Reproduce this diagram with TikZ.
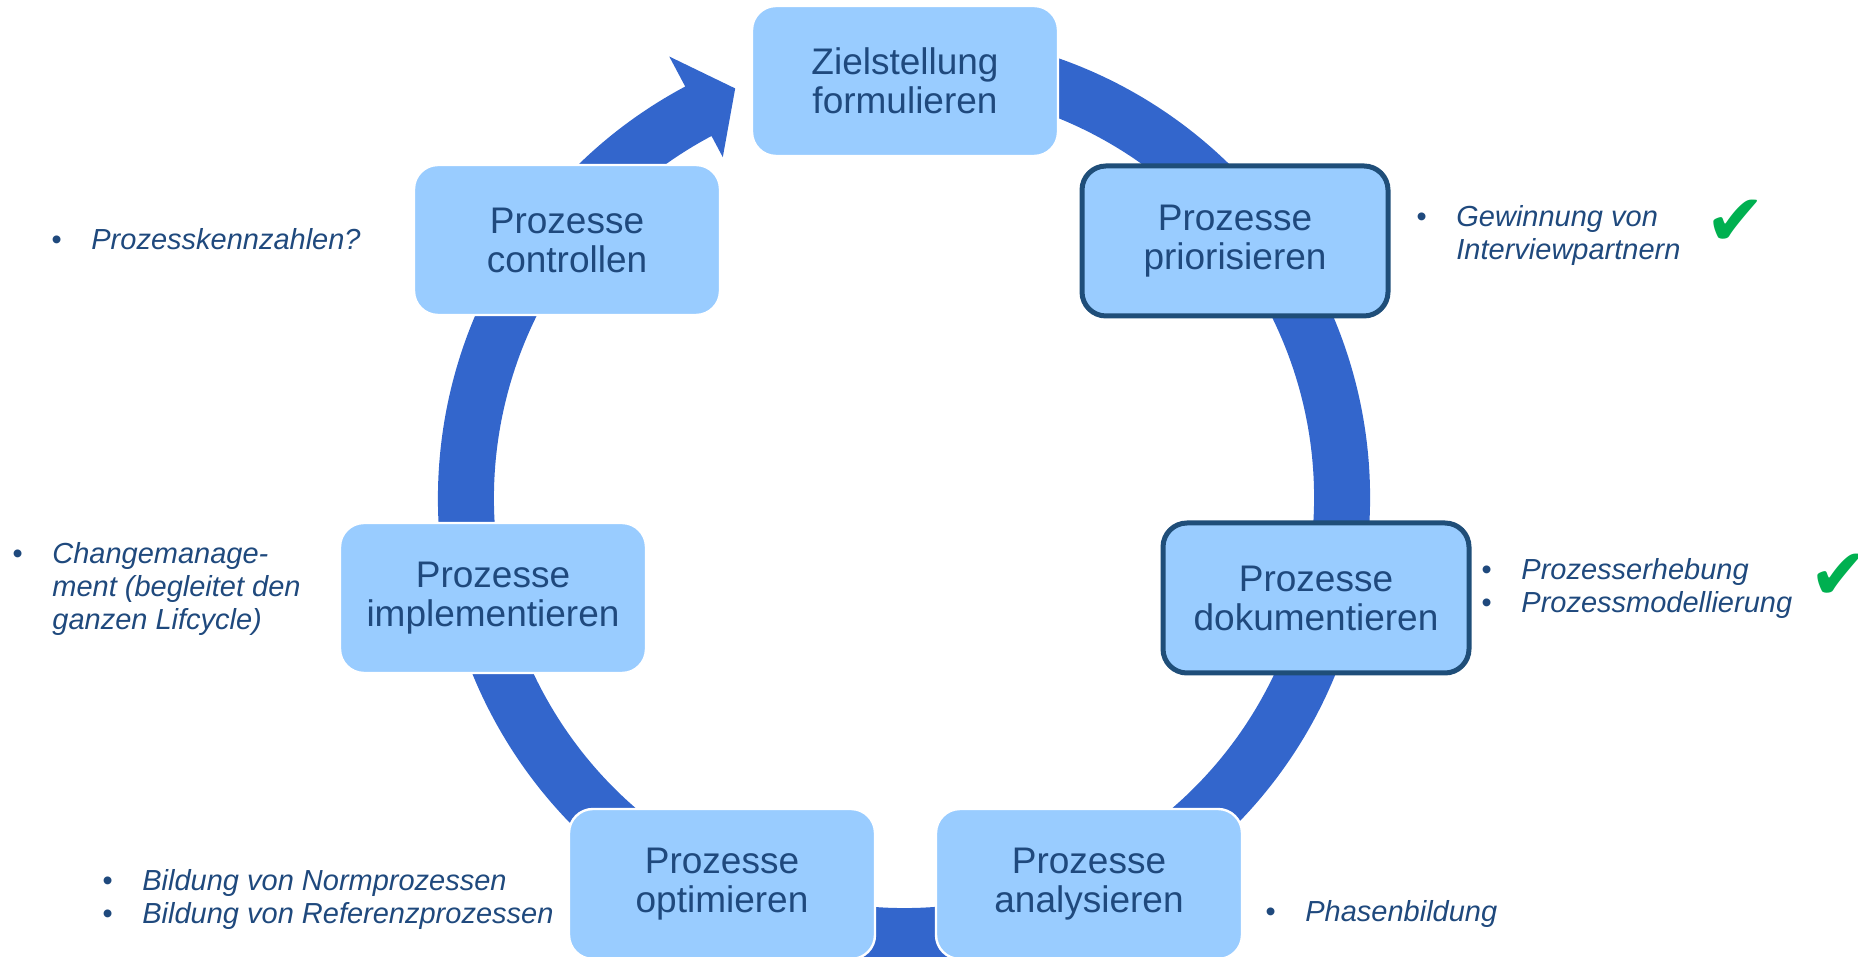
\documentclass[tikz,border=0pt]{standalone}
\usepackage{fontspec}
\setmainfont{Liberation Sans}
\newfontfamily\symfont{DejaVu Sans}
\usetikzlibrary{calc}

\definecolor{ringblue}{RGB}{51,102,204}
\definecolor{boxfill}{RGB}{153,204,255}
\definecolor{textblue}{RGB}{31,73,125}
\definecolor{frameblue}{RGB}{31,78,121}
\definecolor{checkgreen}{RGB}{0,176,80}

\newcommand{\phasefont}{\fontsize{18.5}{19.5}\selectfont}
\newcommand{\notefont}{\fontsize{14.5}{16.5}\selectfont\itshape}

\begin{document}
\begin{tikzpicture}[x=0.5pt, y=0.5pt,
    phase/.style={rectangle, rounded corners=12pt, fill=boxfill, draw=white, line width=1.2pt,
      minimum width=153pt, minimum height=75pt, align=center, text=textblue, font=\phasefont},
    current/.style={draw=frameblue, line width=2.5pt},
    note/.style={anchor=west, inner sep=0pt, text=textblue, font=\notefont},
    tick/.style={inner sep=0pt, text=checkgreen, font=\symfont\fontsize{36}{36}\selectfont}]
    \useasboundingbox (0,0) rectangle (1858,957);

    % Kreislauf-Pfeil
    \coordinate (M) at (904,459);
    \fill[ringblue] ($(M)+(80:466)$) arc[start angle=80, end angle=-242, radius=466]
        -- ($(M)+(118:500)$) -- ($(M)+(112.4:443)$) -- ($(M)+(118:386)$)
        -- ($(M)+(118:410)$) arc[start angle=118, end angle=440, radius=410] -- cycle;

    % Phasen
    \node[phase] (ziel) at (905,876) {Zielstellung\\formulieren};
    \node[phase, current] (prio) at (1235,716) {Prozesse\\priorisieren};
    \node[phase, current] (doku) at (1316,359) {Prozesse\\dokumentieren};
    \node[phase] (analyse) at (1089,73) {Prozesse\\analysieren};
    \node[phase] (opti) at (722,73) {Prozesse\\optimieren};
    \node[phase] (impl) at (493,359) {Prozesse\\implementieren};
    \node[phase] (contr) at (567,717) {Prozesse\\controllen};

    % Anmerkungen
    \node[note] (kennzahlen) at (51,714) {\begin{tabular}{@{}p{20pt}@{}l@{}}•&Prozesskennzahlen?\end{tabular}};
    \node[note] (gewinnung) at (1416,721) {\begin{tabular}{@{}p{20pt}@{}l@{}}•&Gewinnung von\\&Interviewpartnern\end{tabular}};
    \node[note] (erhebung) at (1481,368) {\begin{tabular}{@{}p{20pt}@{}l@{}}•&Prozesserhebung\\•&Prozessmodellierung\end{tabular}};
    \node[note] (phasen) at (1265,42) {\begin{tabular}{@{}p{20pt}@{}l@{}}•&Phasenbildung\end{tabular}};
    \node[note] (bildung) at (102,57) {\begin{tabular}{@{}p{20pt}@{}l@{}}•&Bildung von Normprozessen\\•&Bildung von Referenzprozessen\end{tabular}};
    \node[note] (change) at (12,367) {\begin{tabular}{@{}p{20pt}@{}l@{}}•&Changemanage-\\&ment (begleitet den\\&ganzen Lifcycle)\end{tabular}};

    % Haken
    \node[tick] (hakenA) at (1736,734) {✔};
    \node[tick] (hakenB) at (1840,380) {✔};
\end{tikzpicture}
\end{document}
